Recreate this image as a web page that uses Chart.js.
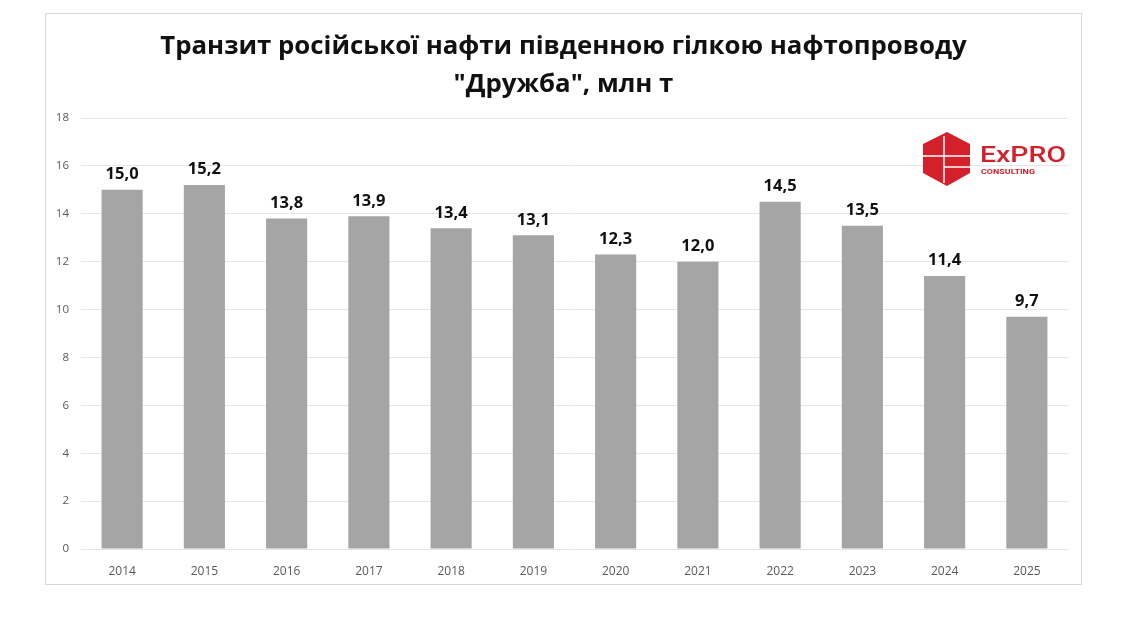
<!DOCTYPE html>
<html>
<head>
<meta charset="utf-8">
<script src="https://cdn.jsdelivr.net/npm/chart.js@4/dist/chart.umd.min.js"></script>
<style>
  body { margin: 0; background: #fff; width: 1132px; height: 622px; position: relative; overflow: hidden; }
  #frame { position: absolute; left: 45px; top: 13px; width: 1035px; height: 570px; border: 1px solid #d9d9d9; }
  #logo { position: absolute; left: 920px; top: 130px; }
</style>
</head>
<body>
<div id="frame"><canvas id="chart" width="1035" height="570"></canvas></div>
<svg id="logo" width="150" height="58" viewBox="0 0 150 58">
  <polygon points="27,2 50,14 50,43 27,56 3,43 3,14" fill="#d3202b"/>
  <line x1="24" y1="6" x2="24" y2="53" stroke="#fff" stroke-width="1.5"/>
  <line x1="3" y1="26" x2="50" y2="26" stroke="#fff" stroke-width="1.5"/>
  <line x1="24" y1="37" x2="50" y2="37" stroke="#fff" stroke-width="1.5"/>
  <text x="60" y="32" font-family="Roboto, sans-serif" font-size="22" font-weight="500" fill="#d3202b" textLength="86" lengthAdjust="spacingAndGlyphs">ExPRO</text>
  <text x="61" y="44" font-family="Roboto, sans-serif" font-size="8" font-weight="700" fill="#d3202b" textLength="54" lengthAdjust="spacingAndGlyphs">CONSULTING</text>
</svg>
<script>
  // === Data ===
  const years = ["2014", "2015", "2016", "2017", "2018", "2019", "2020", "2021", "2022", "2023", "2024", "2025"];
  const transit = [15.0, 15.2, 13.8, 13.9, 13.4, 13.1, 12.3, 12.0, 14.5, 13.5, 11.4, 9.7];
  const yTicks = [0, 2, 4, 6, 8, 10, 12, 14, 16, 18];
  const titleLines = ["Транзит російської нафти південною гілкою нафтопроводу", "\"Дружба\", млн т"];

  // title centred on the whole frame (not on the plot area)
  const frameTitle = {
    id: "frameTitle",
    afterDraw(chart) {
      const ctx = chart.ctx;
      ctx.save();
      ctx.font = "bold 25.8px 'Open Sans', sans-serif";
      ctx.fillStyle = "#111";
      ctx.textAlign = "center";
      ctx.textBaseline = "middle";
      titleLines.forEach((line, i) => ctx.fillText(line, chart.width / 2, 33 + i * 37.5));
      ctx.restore();
    }
  };

  // values above bars, comma as decimal separator
  const valueLabels = {
    id: "valueLabels",
    afterDatasetsDraw(chart) {
      const ctx = chart.ctx;
      const meta = chart.getDatasetMeta(0);
      ctx.save();
      ctx.font = "bold 16.5px 'Open Sans', sans-serif";
      ctx.fillStyle = "#111";
      ctx.textAlign = "center";
      ctx.textBaseline = "bottom";
      meta.data.forEach((bar, i) => {
        ctx.fillText(transit[i].toFixed(1).replace(".", ","), bar.x, bar.y - 7);
      });
      ctx.restore();
    }
  };

  new Chart(document.getElementById("chart"), {
    type: "bar",
    data: {
      labels: years,
      datasets: [{
        data: transit,
        backgroundColor: "#a5a5a5",
        barPercentage: 0.5,
        categoryPercentage: 1.0
      }]
    },
    options: {
      responsive: false,
      animation: false,
      layout: { padding: { left: 0, right: 13, top: 104, bottom: 0 } },
      plugins: {
        legend: { display: false },
        tooltip: { enabled: false },
        title: { display: false }
      },
      scales: {
        x: {
          grid: { display: false },
          border: { display: false },
          ticks: { color: "#595959", font: { family: "'Open Sans', sans-serif", size: 12 }, padding: 7 },
          afterFit: s => { s.height = 35; }
        },
        y: {
          min: 0,
          max: 18,
          afterBuildTicks: s => { s.ticks = yTicks.map(v => ({ value: v })); },
          grid: { color: "#e6e6e6", drawTicks: false },
          border: { display: false },
          ticks: { color: "#595959", font: { family: "'Open Sans', sans-serif", size: 11.5 }, padding: 12 },
          afterFit: s => { s.width = 35; }
        }
      }
    },
    plugins: [valueLabels, frameTitle]
  });
</script>
</body>
</html>
